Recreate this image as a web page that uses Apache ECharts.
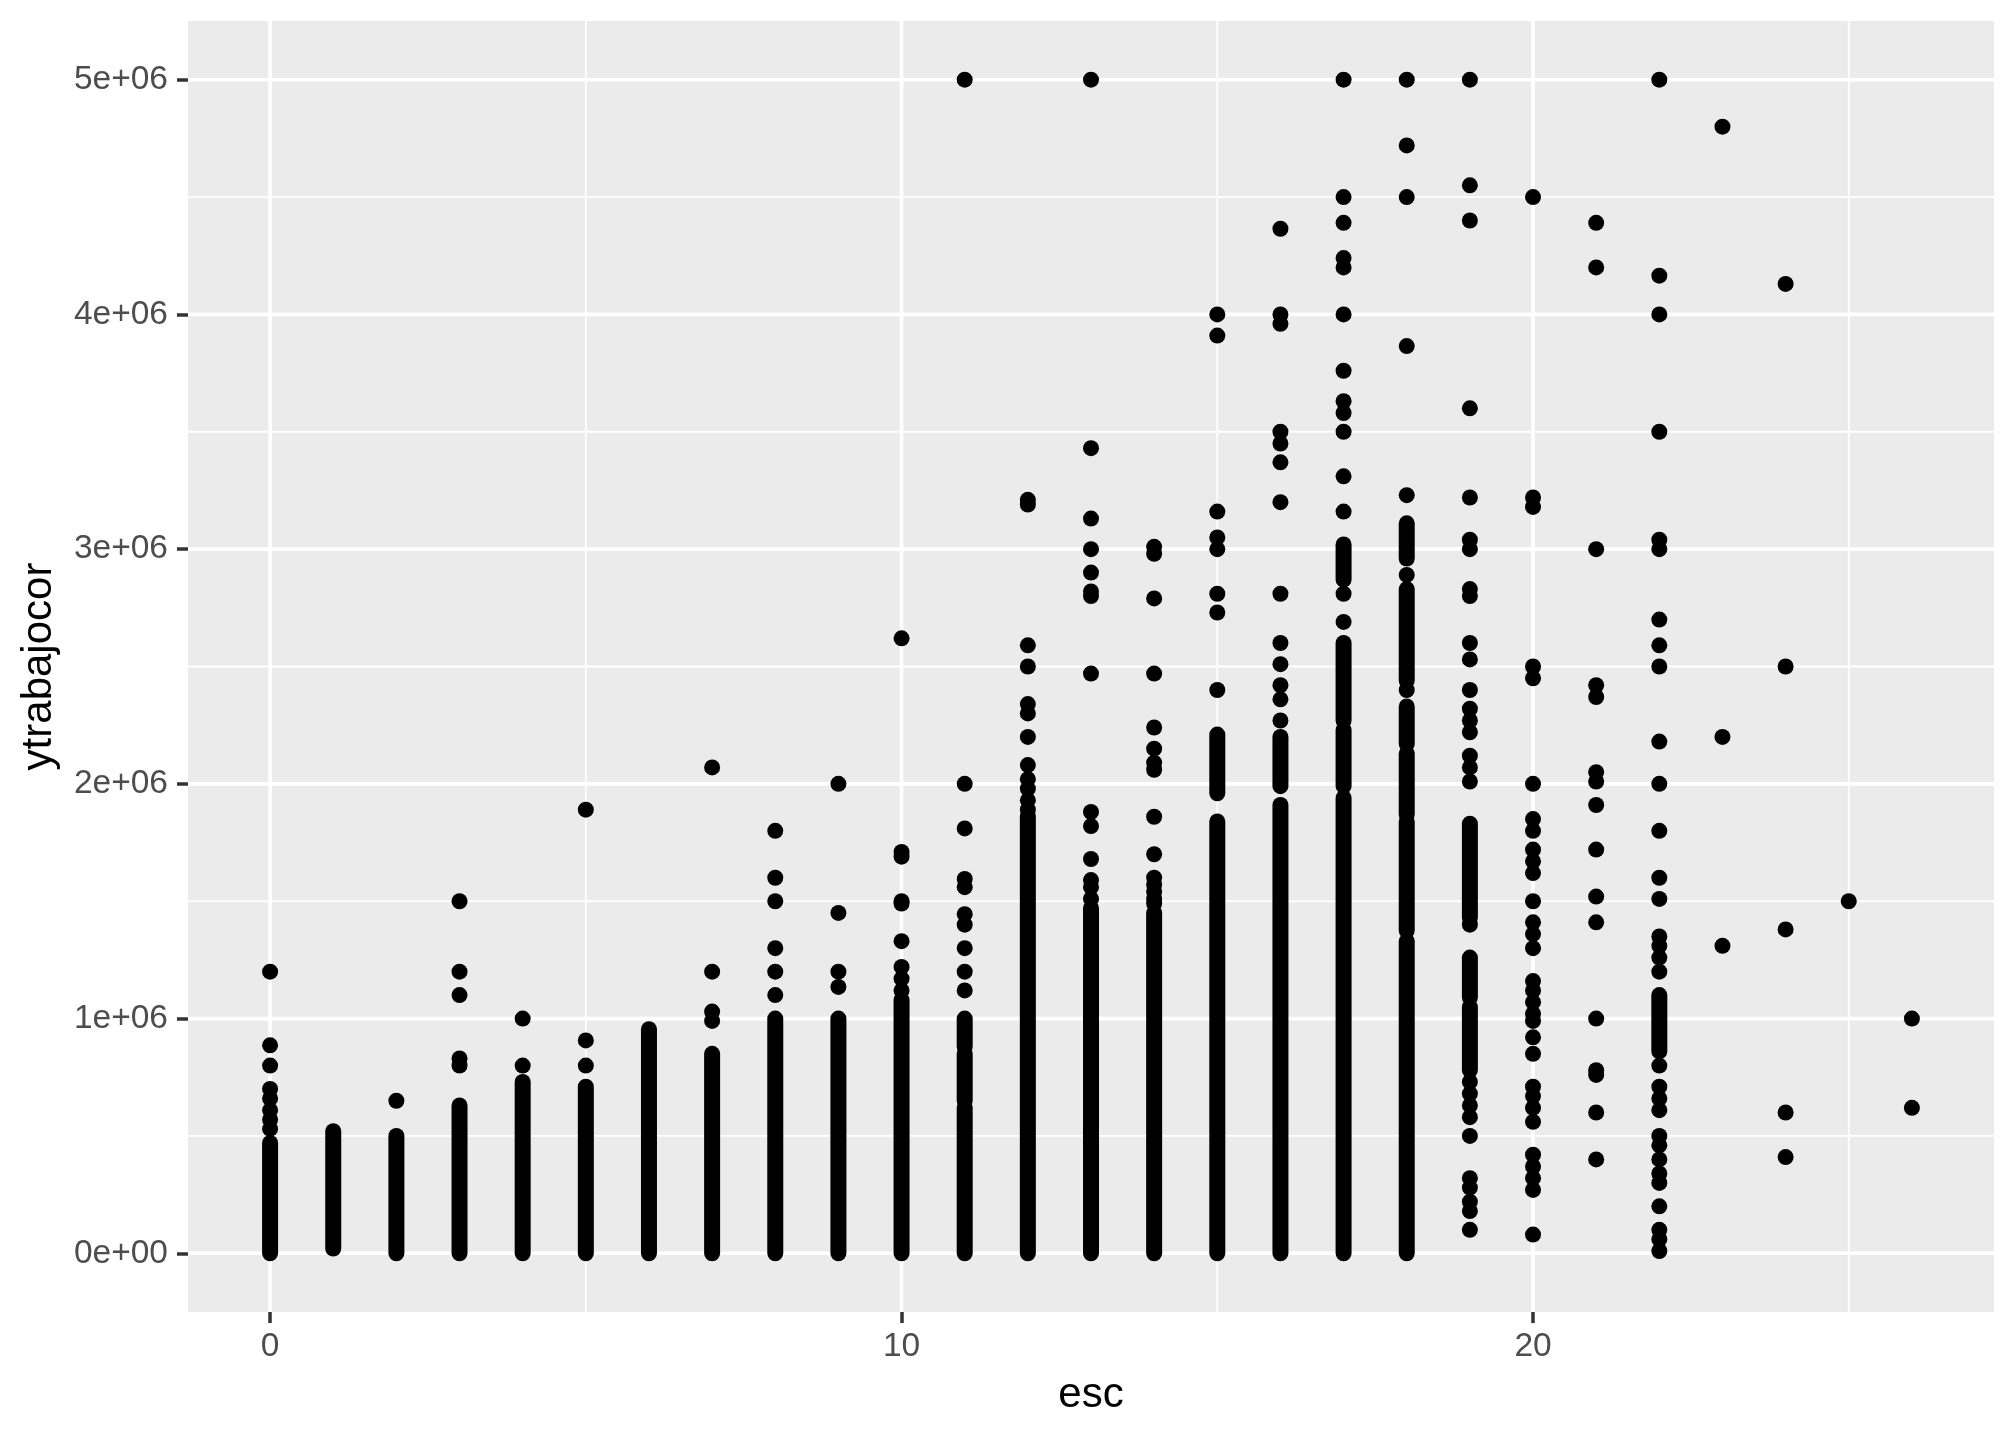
<!DOCTYPE html>
<html><head><meta charset="utf-8">
<script src="https://cdn.jsdelivr.net/npm/echarts@6/dist/echarts.min.js"></script>
<style>html,body{margin:0;padding:0;background:#fff}#chart{width:2016px;height:1440px}</style>
</head><body><div id="chart"></div>
<script>
// axis ticks / gridlines
const xTicks = [0, 10, 20];
const xMinor = [5, 15, 25];
const yTicks = [0, 1e6, 2e6, 3e6, 4e6, 5e6];
const yMinor = [0.5e6, 1.5e6, 2.5e6, 3.5e6, 4.5e6];

// esc categories (x values)
const escLevels = [0,1,2,3,4,5,6,7,8,9,10,11,12,13,14,15,16,17,18,19,20,21,22,23,24,25,26];

// isolated points: ytrabajocor in millions, per esc level
const pts0 = [1.20, 0.886, 0.80, 0.70, 0.66, 0.61, 0.57, 0.53];
const pts1 = [];
const pts2 = [0.65];
const pts3 = [1.50, 1.20, 1.10, 0.83, 0.80];
const pts4 = [1.00, 0.80];
const pts5 = [1.89, 0.907, 0.80];
const pts6 = [];
const pts7 = [2.07, 1.20, 1.03, 0.99];
const pts8 = [1.80, 1.60, 1.50, 1.30, 1.20, 1.10];
const pts9 = [2.00, 1.45, 1.20, 1.135];
const pts10 = [2.62, 1.71, 1.69, 1.50, 1.49, 1.33, 1.22, 1.17, 1.12];
const pts11 = [5.00, 2.00, 1.81, 1.595, 1.56, 1.445, 1.40, 1.30, 1.20, 1.12];
const pts12 = [3.21, 3.19, 2.59, 2.50, 2.34, 2.30, 2.20, 2.08, 2.02, 1.98, 1.93, 1.89];
const pts13 = [5.00, 3.43, 3.13, 3.00, 2.90, 2.82, 2.80, 2.47, 1.88, 1.82, 1.68, 1.59, 1.56, 1.51];
const pts14 = [3.01, 2.98, 2.79, 2.47, 2.24, 2.15, 2.09, 2.06, 1.86, 1.70, 1.60, 1.57, 1.54, 1.51, 1.49];
const pts15 = [4.00, 3.91, 3.16, 3.05, 3.00, 2.81, 2.73, 2.40];
const pts16 = [4.365, 4.00, 3.96, 3.50, 3.45, 3.37, 3.20, 2.81, 2.60, 2.51, 2.42, 2.36, 2.27];
const pts17 = [5.00, 4.50, 4.39, 4.24, 4.20, 4.00, 3.76, 3.63, 3.58, 3.50, 3.31, 3.16, 2.81, 2.69];
const pts18 = [5.00, 4.72, 4.50, 3.865, 3.23, 2.89, 2.40];
const pts19 = [5.00, 4.55, 4.40, 3.60, 3.22, 3.04, 3.00, 2.83, 2.80, 2.60, 2.53, 2.40, 2.32, 2.27, 2.22, 2.12, 2.07, 2.01, 1.40, 0.73, 0.68, 0.63, 0.58, 0.50, 0.32, 0.28, 0.22, 0.18, 0.10];
const pts20 = [4.50, 3.22, 3.18, 2.50, 2.45, 2.00, 1.85, 1.80, 1.72, 1.67, 1.62, 1.50, 1.41, 1.36, 1.30, 1.16, 1.12, 1.07, 1.02, 0.99, 0.92, 0.85, 0.71, 0.67, 0.62, 0.56, 0.42, 0.37, 0.32, 0.27, 0.08];
const pts21 = [4.39, 4.20, 3.00, 2.42, 2.37, 2.05, 2.01, 1.91, 1.72, 1.52, 1.41, 1.00, 0.78, 0.76, 0.60, 0.40];
const pts22 = [5.00, 4.165, 4.00, 3.50, 3.04, 3.00, 2.70, 2.59, 2.50, 2.18, 2.00, 1.80, 1.60, 1.51, 1.35, 1.31, 1.26, 1.20, 0.80, 0.71, 0.66, 0.61, 0.50, 0.46, 0.40, 0.34, 0.30, 0.20, 0.10, 0.06, 0.01];
const pts23 = [4.80, 2.20, 1.31];
const pts24 = [4.13, 2.50, 1.38, 0.60, 0.41];
const pts25 = [1.50];
const pts26 = [1.00, 0.62];

// dense stacks of overlapping points: [lowest, highest] in millions, per esc level
const stack0 = [[0, 0.47]];
const stack1 = [[0.02, 0.52]];
const stack2 = [[0, 0.50]];
const stack3 = [[0, 0.63]];
const stack4 = [[0, 0.73]];
const stack5 = [[0, 0.71]];
const stack6 = [[0, 0.955]];
const stack7 = [[0, 0.85]];
const stack8 = [[0, 1.00]];
const stack9 = [[0, 1.00]];
const stack10 = [[0, 1.08]];
const stack11 = [[0.88, 1.00], [0.65, 0.85], [0, 0.62]];
const stack12 = [[0, 1.86]];
const stack13 = [[0, 1.47]];
const stack14 = [[0, 1.45]];
const stack15 = [[1.96, 2.21], [0, 1.84]];
const stack16 = [[1.99, 2.20], [0, 1.91]];
const stack17 = [[2.87, 3.02], [2.27, 2.60], [1.99, 2.23], [0, 1.94]];
const stack18 = [[2.96, 3.11], [2.44, 2.83], [2.17, 2.33], [1.87, 2.13], [1.375, 1.84], [0, 1.33]];
const stack19 = [[1.43, 1.83], [1.09, 1.26], [0.78, 1.05]];
const stack20 = [];
const stack21 = [];
const stack22 = [[0.86, 1.10]];
const stack23 = [];
const stack24 = [];
const stack25 = [];
const stack26 = [];

const ptsByEsc = [pts0,pts1,pts2,pts3,pts4,pts5,pts6,pts7,pts8,pts9,pts10,pts11,pts12,pts13,pts14,pts15,pts16,pts17,pts18,pts19,pts20,pts21,pts22,pts23,pts24,pts25,pts26];
const stacksByEsc = [stack0,stack1,stack2,stack3,stack4,stack5,stack6,stack7,stack8,stack9,stack10,stack11,stack12,stack13,stack14,stack15,stack16,stack17,stack18,stack19,stack20,stack21,stack22,stack23,stack24,stack25,stack26];

const pointData = [];
escLevels.forEach((e, i) => ptsByEsc[i].forEach(v => pointData.push([e, v * 1e6])));
const stackData = [];
escLevels.forEach((e, i) => stacksByEsc[i].forEach(r => stackData.push([e, r[0] * 1e6, r[1] * 1e6])));

const DOT = 16;
const FONT = 'Liberation Sans, Arial, sans-serif';

function vLines(width) {
  return function (params, api) {
    const cs = params.coordSys;
    const x = api.coord([api.value(0), 0])[0];
    return { type: 'line', shape: { x1: x, y1: cs.y, x2: x, y2: cs.y + cs.height },
             style: { stroke: '#ffffff', lineWidth: width } };
  };
}
function hLines(width) {
  return function (params, api) {
    const cs = params.coordSys;
    const y = api.coord([0, api.value(1)])[1];
    return { type: 'line', shape: { x1: cs.x, y1: y, x2: cs.x + cs.width, y2: y },
             style: { stroke: '#ffffff', lineWidth: width } };
  };
}

const chart = echarts.init(document.getElementById('chart'), null, { renderer: 'canvas' });
chart.setOption({
  backgroundColor: '#ffffff',
  animation: false,
  grid: { left: 188, top: 21, width: 1806, height: 1291, show: true,
          backgroundColor: '#EBEBEB', borderWidth: 0 },
  xAxis: {
    type: 'value', min: -1.3, max: 27.3,
    splitLine: { show: false },
    axisLine: { show: true, onZero: false, lineStyle: { color: 'rgba(0,0,0,0)', width: 0 } },
    axisTick: { show: true, customValues: xTicks, length: 11, lineStyle: { color: '#333333', width: 3.5, opacity: 1 } },
    axisLabel: { customValues: xTicks, fontSize: 33.5, color: '#4D4D4D', fontFamily: FONT, margin: 18 },
    name: 'esc', nameLocation: 'middle', nameGap: 62,
    nameTextStyle: { fontSize: 42, color: '#000000', fontFamily: FONT }
  },
  yAxis: {
    type: 'value', min: -0.25e6, max: 5.25e6,
    splitLine: { show: false },
    axisLine: { show: true, onZero: false, lineStyle: { color: 'rgba(0,0,0,0)', width: 0 } },
    axisTick: { show: true, customValues: yTicks, length: 11, lineStyle: { color: '#333333', width: 3.5, opacity: 1 } },
    axisLabel: { customValues: yTicks, fontSize: 33.5, color: '#4D4D4D', fontFamily: FONT, margin: 20,
                 formatter: v => v === 0 ? '0e+00' : (Math.round(v / 1e6)) + 'e+06' },
    name: 'ytrabajocor', nameLocation: 'middle', nameGap: 128, nameRotate: 90,
    nameTextStyle: { fontSize: 42, color: '#000000', fontFamily: FONT }
  },
  series: [
    { type: 'custom', silent: true, z: 1, renderItem: vLines(1.8), data: xMinor.map(v => [v, 0]), encode: { x: 0, y: 1 } },
    { type: 'custom', silent: true, z: 1, renderItem: hLines(1.8), data: yMinor.map(v => [0, v]), encode: { x: 0, y: 1 } },
    { type: 'custom', silent: true, z: 1, renderItem: vLines(3.6), data: xTicks.map(v => [v, 0]), encode: { x: 0, y: 1 } },
    { type: 'custom', silent: true, z: 1, renderItem: hLines(3.6), data: yTicks.map(v => [0, v]), encode: { x: 0, y: 1 } },
    { type: 'custom', silent: true, z: 2,
      renderItem: function (params, api) {
        const x = api.value(0);
        const a = api.coord([x, api.value(1)]);
        const b = api.coord([x, api.value(2)]);
        return { type: 'line', shape: { x1: a[0], y1: a[1], x2: b[0], y2: b[1] },
                 style: { stroke: '#000000', lineWidth: DOT, lineCap: 'round' } };
      },
      data: stackData, encode: { x: 0, y: [1, 2] } },
    { type: 'scatter', silent: true, z: 3, symbol: 'circle', symbolSize: DOT,
      itemStyle: { color: '#000000', opacity: 1 }, data: pointData }
  ]
});
</script></body></html>
